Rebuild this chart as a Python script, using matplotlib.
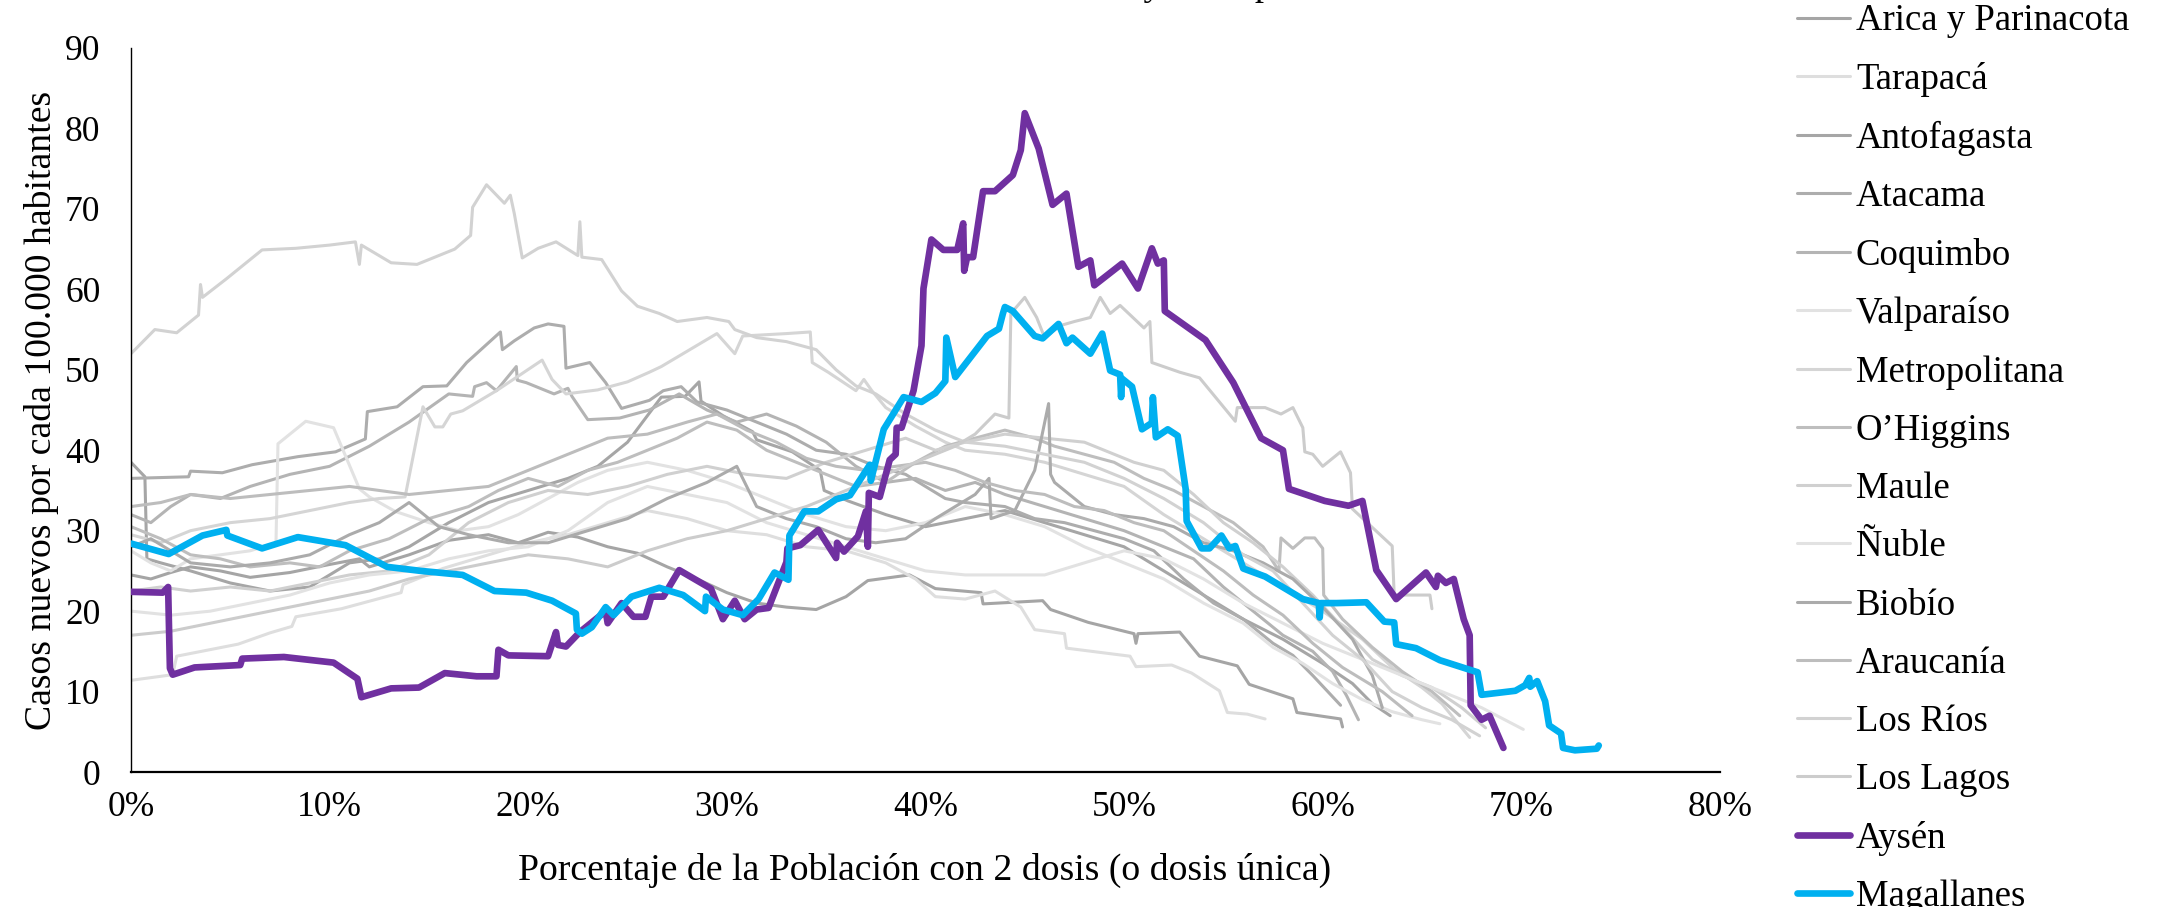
import matplotlib
matplotlib.use("Agg")
import matplotlib.pyplot as plt
from matplotlib.ticker import PercentFormatter, MultipleLocator

# ---- datos (x = % poblacion con 2 dosis, y = casos por 100.000 hab.) ----
arica_x = [0, 1, 2, 3, 4.5, 6, 8, 10, 11.5, 12, 14, 16, 18, 19.5, 21, 22.5, 24, 25.5, 27, 28.5,
           30, 31.5, 33, 34.5, 36, 37.1, 39.2, 40.5, 42.8, 42.9, 45.9, 46.3, 48.2, 50.5, 50.6, 50.7,
           52.8, 53.8, 55.7, 56.3, 58.5, 58.7, 60.9, 61.0]
arica_y = [24.5, 24.0, 24.8, 25.5, 25.0, 24.2, 24.8, 25.8, 26.5, 25.5, 27.0, 28.8, 29.5, 28.5, 29.8,
           29.2, 28.0, 27.2, 25.5, 24.0, 22.3, 21.0, 20.5, 20.2, 21.8, 23.8, 24.5, 22.8, 22.3, 20.9,
           21.3, 20.2, 18.6, 17.2, 16.0, 17.2, 17.4, 14.4, 13.2, 10.9, 9.1, 7.4, 6.6, 5.6]

tarapaca_x = [0, 2.1, 2.3, 5.4, 7.0, 8.1, 8.3, 10.6, 13.6, 13.7, 15.7, 18, 20, 22, 24, 26, 28, 30,
              32, 34, 36, 38, 39.5, 40.5, 42, 43.5, 44.8, 45.5, 47.0, 47.1, 50.3, 50.6, 52.4, 53.4,
              54.8, 55.2, 56.2, 57.1]
tarapaca_y = [11.4, 12.1, 14.4, 15.9, 17.3, 18.1, 19.3, 20.3, 22.3, 23.3, 25.3, 27.0, 28.5, 29.5,
              31.0, 32.5, 31.5, 30.0, 29.5, 28.0, 27.5, 26.0, 24.0, 21.8, 21.5, 22.5, 20.5, 17.7,
              17.2, 15.4, 14.4, 13.1, 13.3, 12.3, 10.1, 7.4, 7.2, 6.6]

antofagasta_x = [0, 0.7, 0.8, 1.5, 3, 5, 7, 9, 10, 11, 12.5, 14, 16, 18, 20, 22, 23.5, 25, 26.7,
                 27.9, 28.6, 28.7, 29.8, 31.3, 31.5, 33.3, 34.7, 34.9, 36.1, 38, 40, 42, 44, 46,
                 48, 50, 52, 54, 56, 58, 60, 61.5, 62.5, 63.4]
antofagasta_y = [38.5, 36.7, 26.5, 26.0, 25.0, 23.5, 22.5, 23.0, 24.5, 26.0, 26.5, 28.0, 31.0, 33.5,
                 35.0, 36.5, 38.0, 41.0, 46.6, 46.7, 48.5, 46.1, 44.3, 42.3, 41.3, 39.8, 37.5, 35.0,
                 33.7, 32.0, 30.5, 31.5, 32.5, 31.0, 29.5, 28.0, 25.0, 22.0, 19.0, 16.5, 13.5, 11.0,
                 8.5, 7.0]

atacama_x = [0, 2.9, 3.0, 4.6, 6.1, 8.4, 10.3, 11.8, 11.9, 13.4, 14.7, 15.9, 16.9, 18.6, 18.7, 19.3,
             20.3, 21.0, 21.8, 21.9, 23.1, 23.9, 24.7, 26.1, 26.8, 27.7, 28.5, 30, 31.5, 33, 34.5,
             36, 37.5, 39, 40, 41, 42, 44, 45.5, 47, 48.5, 50, 51.5, 53, 54.5, 56, 57.5, 58.5, 59.5,
             60.9]
atacama_y = [36.5, 36.7, 37.4, 37.2, 38.2, 39.2, 39.8, 41.4, 44.8, 45.4, 47.9, 48.0, 50.9, 54.7, 52.5,
             53.6, 55.2, 55.7, 55.4, 50.2, 50.9, 48.4, 45.2, 46.2, 47.4, 47.9, 46.0, 45.0, 43.5, 42.0,
             40.0, 39.5, 38.0, 37.0, 35.5, 34.0, 33.5, 33.0, 31.5, 31.0, 30.0, 29.0, 27.5, 24.0, 21.0,
             19.0, 16.0, 14.5, 12.0, 8.3]

coquimbo_x = [0, 1, 2, 3, 4.5, 6, 8, 10, 12, 14, 16.0, 17.2, 17.3, 17.9, 18.4, 19.4, 19.45, 19.9,
              21.3, 22.0, 22.2, 23.0, 24.6, 26.1, 27.6, 29, 30.5, 32, 33.5, 35, 36.5, 38, 39.5, 41,
              42.5, 44, 46, 48, 50, 52, 53.5, 55, 56.5, 58, 59.5, 60.5, 61.2, 61.8]
coquimbo_y = [32, 31, 33, 34.5, 34, 35.5, 37, 38, 40.5, 43.5, 47.0, 46.7, 47.9, 48.4, 47.4, 50.4, 48.7,
              48.4, 47.0, 47.7, 46.7, 43.8, 44.0, 45.0, 47.0, 45, 43.5, 44.5, 43, 41, 38, 36, 36.5,
              35, 36, 34.5, 33, 31.5, 30, 28, 26.5, 23, 20, 17, 15, 12.5, 9.5, 6.5]

valparaiso_x = [0, 1, 2, 3, 4.5, 6, 7.3, 7.4, 8.8, 10.2, 11.5, 12.0, 13.3, 15, 16.5, 18, 19.5, 21,
                22.5, 24, 26, 28, 30, 32, 34, 36, 38, 40, 42, 44, 46, 48, 50, 52, 54, 56, 57.5, 59,
                60.5, 62, 63.5, 65, 65.9]
valparaiso_y = [27.5, 26, 25, 26.5, 27, 27.5, 28.5, 40.8, 43.6, 42.8, 35.2, 34.2, 32.4, 31, 30, 30.5,
                32, 34, 36, 37.5, 38.5, 37.5, 36, 34, 32, 30.5, 30, 31, 33, 32, 30.5, 28, 26, 24, 21,
                18.5, 15.5, 13.5, 11, 9, 7.5, 6.5, 6.0]

metropolitana_x = [0, 1.5, 3, 5, 7, 9, 11, 12.5, 13.8, 14.7, 15.3, 15.7, 16.1, 16.7, 18.4, 20.7, 21.2,
                   21.9, 23.5, 25, 26.1, 26.7, 29.5, 30.4, 30.8, 33.0, 34.2, 34.3, 35.1, 36.5, 36.9,
                   37.3, 38.0, 39.5, 41, 42, 44, 46, 48, 50, 52, 54, 56, 58, 60, 62, 63.5, 65, 66,
                   67.4]
metropolitana_y = [29.5, 28.5, 30, 31, 31.5, 32.5, 33.5, 34, 34.2, 45.4, 42.9, 42.9, 44.5, 44.9, 47.4,
                   51.2, 48.8, 47.0, 47.5, 48.5, 49.7, 50.4, 54.5, 52.0, 54.2, 54.5, 54.7, 50.9, 49.7,
                   47.4, 48.8, 47.4, 45.3, 43, 41, 40, 39.5, 38.5, 37, 35.5, 32, 29, 26, 23, 20, 16.5,
                   13, 10.5, 8.5, 4.3]

ohiggins_x = [0, 1.5, 3, 4.5, 6, 8, 9.5, 11, 13, 15, 17, 18.5, 20, 21.5, 23, 24.5, 26, 27.5, 29,
              30.5, 32, 33.5, 35, 36.5, 38, 39.5, 41, 42.5, 44, 45.5, 46.5, 48, 49.5, 51, 52.5, 54,
              55.5, 57, 57.8, 57.9, 58.5, 59.1, 59.6, 60.0, 60.05, 61, 62.5, 64, 65.5, 66.9]
ohiggins_y = [30.5, 29, 27, 26.5, 25.5, 26, 25.5, 27.5, 29, 31.5, 33, 35, 36.5, 35.5, 37.5, 38.5, 40,
              41.5, 43.5, 42.5, 40, 38.5, 37, 35.5, 36, 38.5, 40.5, 41.5, 42.5, 41.5, 40.5, 39.5,
              38.5, 36.5, 35, 33, 31, 28, 25, 29.1, 27.8, 29.1, 29.1, 27.8, 22.0, 19, 15.5, 12.5,
              10, 7.0]

maule_x = [0, 1.5, 3, 5, 7, 9, 11, 13, 15, 17, 19, 21, 23, 25, 27, 29, 31, 33, 35, 37, 39, 40.5, 42,
           44, 46, 48, 49.5, 50.5, 52, 53.5, 55, 56.5, 58, 59.5, 61, 62.5, 64, 65.5, 67, 68.2]
maule_y = [22.5, 23, 22.5, 23, 22.5, 23.5, 24.5, 25, 27, 31, 33.5, 35, 34.5, 35.5, 37, 38, 37, 36.5,
           38.5, 40, 41.5, 40, 41, 42, 41.5, 41, 39.5, 38.5, 37.5, 34.5, 31, 28.5, 25.5, 22, 18, 14,
           12, 10.5, 8, 5.5]

nuble_x = [0, 2, 4, 6, 8, 10, 12, 14, 16, 18, 20, 22, 24, 26, 28, 30, 32, 34, 36, 38, 40, 42, 44,
           46, 48, 50, 52, 54, 56, 58, 60, 62, 64, 66, 68, 70.1]
nuble_y = [20, 19.5, 20, 21, 22, 23.5, 24.5, 25, 26.5, 27.5, 28, 30, 33.5, 35.5, 34.5, 33.5, 31,
           29.5, 28, 26.5, 25, 24.5, 24.5, 24.5, 26, 27.5, 26.5, 24, 21, 18.5, 16, 14, 12, 10, 8,
           5.3]

biobio_x = [0, 1, 2, 3, 5, 7, 9, 11, 12.5, 14, 15.5, 17, 19, 21, 23, 25, 27, 29, 30.5, 31.5, 33,
            34.5, 36, 37.5, 39, 40.5, 41.5, 42.5, 43.2, 43.3, 44.5, 45.5, 46.2, 46.3, 46.5, 48,
            49.5, 51, 52.5, 54, 55.5, 57, 58.5, 60, 61.5, 62.5, 63.0]
biobio_y = [28, 29, 27.5, 26, 25.5, 26, 27, 29.5, 31, 33.5, 30.5, 29.5, 28.5, 28.5, 30, 31.5, 34, 36,
            38, 33, 31.5, 30.5, 29, 28.5, 29, 31.5, 33, 34.5, 36.5, 31.5, 32.5, 37.5, 45.8, 37, 36,
            33, 32, 31.5, 30.5, 28.5, 27.5, 26, 24, 20.5, 16.5, 12, 8]

araucania_x = [0, 1.5, 3, 5, 7, 9, 11, 12.5, 14, 16, 18, 20, 22, 24, 26, 28, 29.5, 31, 32.5, 34,
               35.5, 37, 38.5, 40, 41.5, 43, 44.5, 46, 47.5, 49, 50.5, 52, 53.5, 55, 56.5, 58, 59.5,
               61, 62, 63, 64, 64.5]
araucania_y = [33, 33.5, 34.5, 34, 34.5, 35, 35.5, 35, 34.5, 35, 35.5, 37.5, 39.5, 41.5, 42, 43.5,
               44.5, 42.5, 41, 39, 38, 37.5, 38, 38.5, 37.5, 36, 35, 34.5, 33, 32.5, 31, 30, 27.5,
               25, 22, 19.5, 16, 13, 11.5, 10, 8, 7]

losrios_x = [0, 1.2, 2.3, 3.4, 3.5, 3.6, 4.8, 6.6, 8.3, 10.0, 11.3, 11.5, 11.6, 13.1, 14.4, 16.3, 17.1,
             17.2, 17.9, 18.8, 19.1, 19.3, 19.7, 20.5, 21.4, 22.5, 22.6, 22.7, 23.7, 24.7, 25.5, 26.6,
             27.5, 28.1, 29.0, 30.1, 30.4, 31.5, 33.0, 34.5, 35.5, 36.5, 37.5, 39.0, 40.5, 42.0, 44.0,
             46.0, 48.0, 50.0, 52.0, 54.0, 56.0, 57.5, 59.0, 60.5, 62.0, 63.5, 65.0, 66.5, 67.9]
losrios_y = [52.0, 55.0, 54.6, 56.8, 60.6, 59.0, 61.3, 64.9, 65.1, 65.5, 65.9, 63.1, 65.5, 63.3, 63.1,
             65.0, 66.7, 70.2, 73.0, 70.7, 71.7, 69.4, 63.9, 65.1, 65.9, 64.2, 68.4, 64.0, 63.7, 59.8,
             57.9, 57.0, 56.0, 56.2, 56.5, 56.0, 55.0, 54.0, 53.5, 52.5, 50.0, 48.0, 47.0, 44.5, 42.5,
             41.0, 40.5, 39.5, 38.5, 36.5, 34.0, 31.0, 27.0, 25.0, 21.0, 17.0, 14.0, 10.0, 8.0, 6.5,
             4.5]

loslagos_x = [0, 2, 4, 6, 8, 10, 12, 14, 16, 18, 20, 22, 24, 26, 28, 30, 32, 34, 36, 38, 40, 41.5,
              42.5, 43.5, 44.2, 44.3, 45.0, 45.6, 46.0, 46.8, 47.5, 48.3, 48.8, 49.3, 49.8, 51.0,
              51.3, 51.4, 52.8, 53.8, 55.6, 55.7, 57.1, 57.9, 58.5, 59.0, 59.1, 59.5, 60.0, 60.9,
              61.4, 61.5, 63.5, 63.6, 65.4, 65.5]
loslagos_y = [17, 17.5, 18.5, 19.5, 20.5, 21.5, 22.5, 24, 25, 26, 27, 26.5, 25.5, 27.5, 29, 30, 31.5,
              33, 35, 37, 39, 40.5, 42, 44.5, 44, 57.0, 59.0, 56.5, 54.0, 55.5, 56.0, 56.5, 59.0,
              57.0, 58.0, 55.2, 56.0, 50.9, 49.7, 49.0, 43.6, 45.3, 45.3, 44.5, 45.3, 42.8, 39.8,
              39.5, 38.0, 39.8, 37.2, 32.7, 28.1, 22.0, 22.0, 20.3]

aysen_x = [0, 1.6, 1.87, 1.9, 1.96, 2.1, 3.2, 5.5, 5.6, 7.7, 10.2, 11.4, 11.6, 13.1, 14.5, 15.8, 17.4,
           18.4, 18.5, 19.0, 21.0, 21.4, 21.5, 21.9, 22.6, 23.9, 24.0, 24.7, 25.3, 25.9, 26.2, 26.8,
           27.6, 29.2, 29.8, 30.4, 30.9, 31.5, 32.1, 33.0, 33.05, 33.7, 34.6, 35.5, 35.55, 35.9, 36.6,
           37.0, 37.1, 37.15, 37.7, 38.2, 38.5, 38.55, 38.8, 39.4, 39.8, 39.9, 40.3, 40.9, 41.6, 41.9,
           41.95, 42.1, 42.4, 42.9, 43.5, 44.4, 44.8, 45.0, 45.7, 46.4, 47.1, 47.7, 48.3, 48.5, 49.9,
           50.7, 51.4, 51.7, 52.0, 52.05, 54.1, 55.5, 56.9, 58.0, 58.3, 60.1, 61.3, 62.0, 62.7, 63.7,
           65.2, 65.7, 65.8, 66.2, 66.6, 67.1, 67.4, 67.45, 68.0, 68.4, 69.1]
aysen_y = [22.4, 22.3, 23.0, 19.5, 12.9, 12.1, 13.0, 13.3, 14.1, 14.3, 13.6, 11.6, 9.3, 10.4, 10.5,
           12.3, 11.9, 11.9, 15.2, 14.5, 14.4, 17.4, 15.8, 15.6, 17.4, 20.0, 18.5, 21.0, 19.3, 19.3,
           21.8, 21.8, 25.1, 22.8, 19.0, 21.3, 19.0, 20.2, 20.4, 26.1, 27.8, 28.2, 30.1, 26.6, 28.5,
           27.4, 29.3, 32.4, 28.0, 34.7, 34.2, 38.8, 39.5, 42.8, 42.8, 47.4, 53.0, 60.1, 66.2, 64.9,
           64.9, 68.2, 62.3, 64.0, 64.0, 72.2, 72.2, 74.2, 77.3, 81.9, 77.5, 70.5, 71.9, 62.8, 63.6,
           60.5, 63.2, 60.1, 65.1, 63.2, 63.6, 57.3, 53.7, 48.4, 41.5, 40.0, 35.2, 33.7, 33.1, 33.7,
           25.1, 21.5, 24.8, 23.0, 24.4, 23.5, 24.0, 19.0, 17.0, 8.3, 6.5, 7.0, 3.0]

magallanes_x = [0, 1.9, 3.6, 4.8, 4.85, 6.6, 8.4, 10.8, 12.9, 14.6, 16.7, 18.3, 19.9, 21.2, 22.4,
                22.45, 22.7, 23.2, 23.9, 24.3, 25.2, 26.6, 27.8, 28.9, 28.95, 29.8, 30.8, 31.6, 32.4,
                33.1, 33.15, 33.9, 34.6, 35.5, 36.2, 37.2, 37.25, 37.9, 38.9, 39.8, 40.5, 41.0, 41.05,
                41.5, 43.1, 43.7, 43.9, 44.0, 44.4, 45.5, 45.9, 46.7, 47.1, 47.4, 48.3, 48.9, 49.3,
                49.8, 49.85, 49.9, 50.4, 50.9, 51.4, 51.45, 51.6, 52.2, 52.7, 53.1, 53.15, 53.9, 54.3,
                54.9, 55.3, 55.6, 56.0, 57.1, 59.0, 59.8, 59.85, 59.9, 60.7, 62.2, 63.1, 63.6, 63.7,
                64.7, 65.9, 67.8, 68.0, 69.7, 70.2, 70.4, 70.45, 70.8, 71.2, 71.4, 72.0, 72.1, 72.7,
                73.8, 73.9]
magallanes_y = [28.4, 27.1, 29.4, 30.1, 29.4, 27.8, 29.2, 28.2, 25.5, 25.0, 24.5, 22.5, 22.3, 21.3,
                19.7, 17.7, 17.2, 18.0, 20.5, 19.5, 21.8, 22.9, 22.0, 20.0, 21.8, 20.2, 19.5, 21.5,
                24.8, 23.9, 29.4, 32.4, 32.4, 33.9, 34.4, 38.2, 36.2, 42.6, 46.6, 46.0, 47.1, 48.6,
                54.0, 49.1, 54.2, 55.1, 57.0, 57.8, 57.3, 54.2, 53.9, 55.7, 53.3, 54.0, 52.0, 54.5,
                49.9, 49.4, 46.6, 48.9, 47.9, 42.6, 43.4, 46.6, 41.6, 42.6, 41.8, 35.2, 31.2, 27.8,
                27.8, 29.4, 27.8, 28.1, 25.3, 24.3, 21.5, 21.0, 19.2, 21.0, 21.0, 21.1, 18.7, 18.6,
                15.9, 15.4, 13.9, 12.4, 9.6, 10.1, 10.8, 11.7, 10.6, 11.3, 8.8, 5.8, 4.8, 3.0, 2.7,
                2.9, 3.3]

regiones = ["Arica y Parinacota", "Tarapacá", "Antofagasta", "Atacama", "Coquimbo", "Valparaíso",
            "Metropolitana", "O’Higgins", "Maule", "Ñuble", "Biobío", "Araucanía", "Los Ríos",
            "Los Lagos", "Aysén", "Magallanes"]
colores = ["#A5A5A5", "#DEDEDE", "#A6A6A6", "#ADADAD", "#B4B4B4", "#E2E2E2", "#D5D5D5", "#BEBEBE",
           "#D0D0D0", "#E2E2E2", "#ABABAB", "#BDBDBD", "#D2D2D2", "#CCCCCC", "#7030A0", "#00B0F0"]

series = [(arica_x, arica_y), (tarapaca_x, tarapaca_y), (antofagasta_x, antofagasta_y),
          (atacama_x, atacama_y), (coquimbo_x, coquimbo_y), (valparaiso_x, valparaiso_y),
          (metropolitana_x, metropolitana_y), (ohiggins_x, ohiggins_y), (maule_x, maule_y),
          (nuble_x, nuble_y), (biobio_x, biobio_y), (araucania_x, araucania_y),
          (losrios_x, losrios_y), (loslagos_x, loslagos_y), (aysen_x, aysen_y),
          (magallanes_x, magallanes_y)]

plt.rcParams['font.family'] = ['Liberation Serif', 'DejaVu Serif']

fig = plt.figure(figsize=(21.58, 9.07), dpi=100)
ax = fig.add_axes([0.0607, 0.1488, 0.7363, 0.7983])

handles = []
for (xs, ys), nombre, col in zip(series, regiones, colores):
    destacada = nombre in ("Aysén", "Magallanes")
    lw = 4.8 if destacada else 2.2
    ln, = ax.plot([v / 100 for v in xs], ys, color=col, lw=lw, label=nombre,
                  solid_joinstyle='round', solid_capstyle='round',
                  zorder=3 if destacada else 2)
    handles.append(ln)

ax.set_xlim(0, 0.8)
ax.set_ylim(0, 90)
ax.xaxis.set_major_locator(MultipleLocator(0.1))
ax.yaxis.set_major_locator(MultipleLocator(10))
ax.xaxis.set_major_formatter(PercentFormatter(xmax=1, decimals=0))
ax.tick_params(axis='both', length=0, labelsize=25.5)
ax.tick_params(axis='x', pad=14)
ax.tick_params(axis='y', pad=22)
for s in ('top', 'right'):
    ax.spines[s].set_visible(False)
ax.spines['left'].set_linewidth(1.0)
ax.spines['bottom'].set_linewidth(1.6)

fig.text(42 / 2158, 1 - 410 / 907, 'Casos nuevos por cada 100.000 habitantes',
         rotation=90, ha='center', va='center', fontsize=27.2)
fig.text(925 / 2158, 1 - 870 / 907, 'Porcentaje de la Población con 2 dosis (o dosis única)',
         ha='center', va='center', fontsize=27.2)

# titulo cortado por el borde superior: solo asoman los trazos de la "y" y la "p"
fig.text(933 / 2158, 1 + 5.5 / 907, 'Casos nuevos y % de población vacunada',
         ha='left', va='baseline', fontsize=26.5)

fig.legend(handles=handles, loc='upper left', bbox_to_anchor=(1797 / 2158, 1 - 4 / 907),
           frameon=False, fontsize=26.5, handlelength=1.44, handletextpad=0.16,
           labelspacing=0.645, borderpad=0, borderaxespad=0)

fig.savefig('out.png', dpi=100)
